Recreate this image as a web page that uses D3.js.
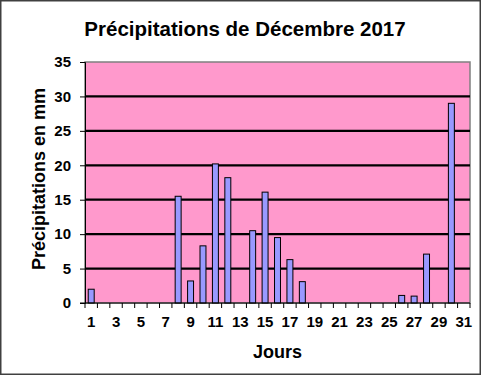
<!DOCTYPE html>
<html><head><meta charset="utf-8">
<script src="https://d3js.org/d3.v7.min.js"></script>
<style>body{margin:0;background:#fff}svg{display:block}text{font-family:Arial,"Liberation Sans",sans-serif;font-weight:bold}</style>
</head><body>
<script>
const days = d3.range(1, 32);
const rain = [2,0,0,0,0,0,0,15.5,3.2,8.3,20.2,18.2,0,10.5,16.1,9.5,6.3,3.1,0,0,0,0,0,0,0,1.1,1.0,7.1,0,29,0];
const yTicks = [0,5,10,15,20,25,30,35];
const xLabels = days.filter(d => d % 2 === 1);
const title = "Précipitations de Décembre 2017";
const yTitle = "Précipitations en mm";
const xTitle = "Jours";

const W = 481, H = 375;
const m = {left:85, right:11, top:62, bottom:72};
const svg = d3.select("body").append("svg").attr("width", W).attr("height", H);
svg.append("rect").attr("x",0.75).attr("y",0.75).attr("width",W-1.5).attr("height",H-1.5)
  .attr("fill","#fff").attr("stroke","#404040").attr("stroke-width",1.5);

const x = d3.scaleBand().domain(days).range([m.left, W-m.right]).paddingInner(0.52).paddingOuter(0.26);
const y = d3.scaleLinear().domain([0,35]).range([H-m.bottom, m.top]);
const xs = (W-m.right-m.left)/days.length;

svg.append("rect").attr("x",m.left).attr("y",m.top).attr("width",W-m.right-m.left).attr("height",y(0)-m.top)
  .attr("fill","#FF99CC").attr("stroke","#808080").attr("stroke-width",1.5);

svg.append("g").selectAll("line").data(yTicks.filter(t=>t>0 && t<35)).join("line")
  .attr("x1",m.left).attr("x2",W-m.right).attr("y1",d=>y(d)).attr("y2",d=>y(d))
  .attr("stroke","#000").attr("stroke-width",2.2);

svg.append("g").selectAll("rect").data(days).join("rect")
  .attr("x",d=>x(d)).attr("width",x.bandwidth())
  .attr("y",(d,i)=>y(rain[i])).attr("height",(d,i)=>y(0)-y(rain[i]))
  .attr("fill","#9999FF").attr("stroke","#000").attr("stroke-width",1)
  .style("display",(d,i)=>rain[i]>0?null:"none");

// y axis
const ya = svg.append("g").attr("transform",`translate(${m.left},0)`)
  .call(d3.axisLeft(y).tickValues(yTicks).tickSize(5).tickPadding(9));
ya.select(".domain").attr("stroke","#000").attr("stroke-width",1);
ya.selectAll(".tick line").attr("stroke","#000");
ya.selectAll("text").attr("font-size",15).attr("fill","#000").style("font-family","Arial, Liberation Sans, sans-serif").style("font-weight","bold");

// x axis
const xa = svg.append("g").attr("transform",`translate(0,${y(0)})`);
xa.append("line").attr("x1",m.left-5).attr("x2",W-m.right).attr("stroke","#000");
xa.selectAll("line.t").data(d3.range(0,32)).join("line").attr("class","t")
  .attr("x1",i=>m.left+i*xs).attr("x2",i=>m.left+i*xs).attr("y1",0).attr("y2",5).attr("stroke","#000");
xa.selectAll("text").data(xLabels).join("text")
  .attr("x",d=>x(d)+x.bandwidth()/2).attr("y",24).attr("text-anchor","middle")
  .attr("font-size",15).text(d=>d);

svg.append("text").attr("x",245).attr("y",36).attr("text-anchor","middle").attr("font-size",20.5).text(title);
svg.append("text").attr("transform",`translate(45,179) rotate(-90)`).attr("text-anchor","middle").attr("font-size",18).text(yTitle);
svg.append("text").attr("x",(m.left+W-m.right)/2).attr("y",358).attr("text-anchor","middle").attr("font-size",18).text(xTitle);
</script>
</body></html>
